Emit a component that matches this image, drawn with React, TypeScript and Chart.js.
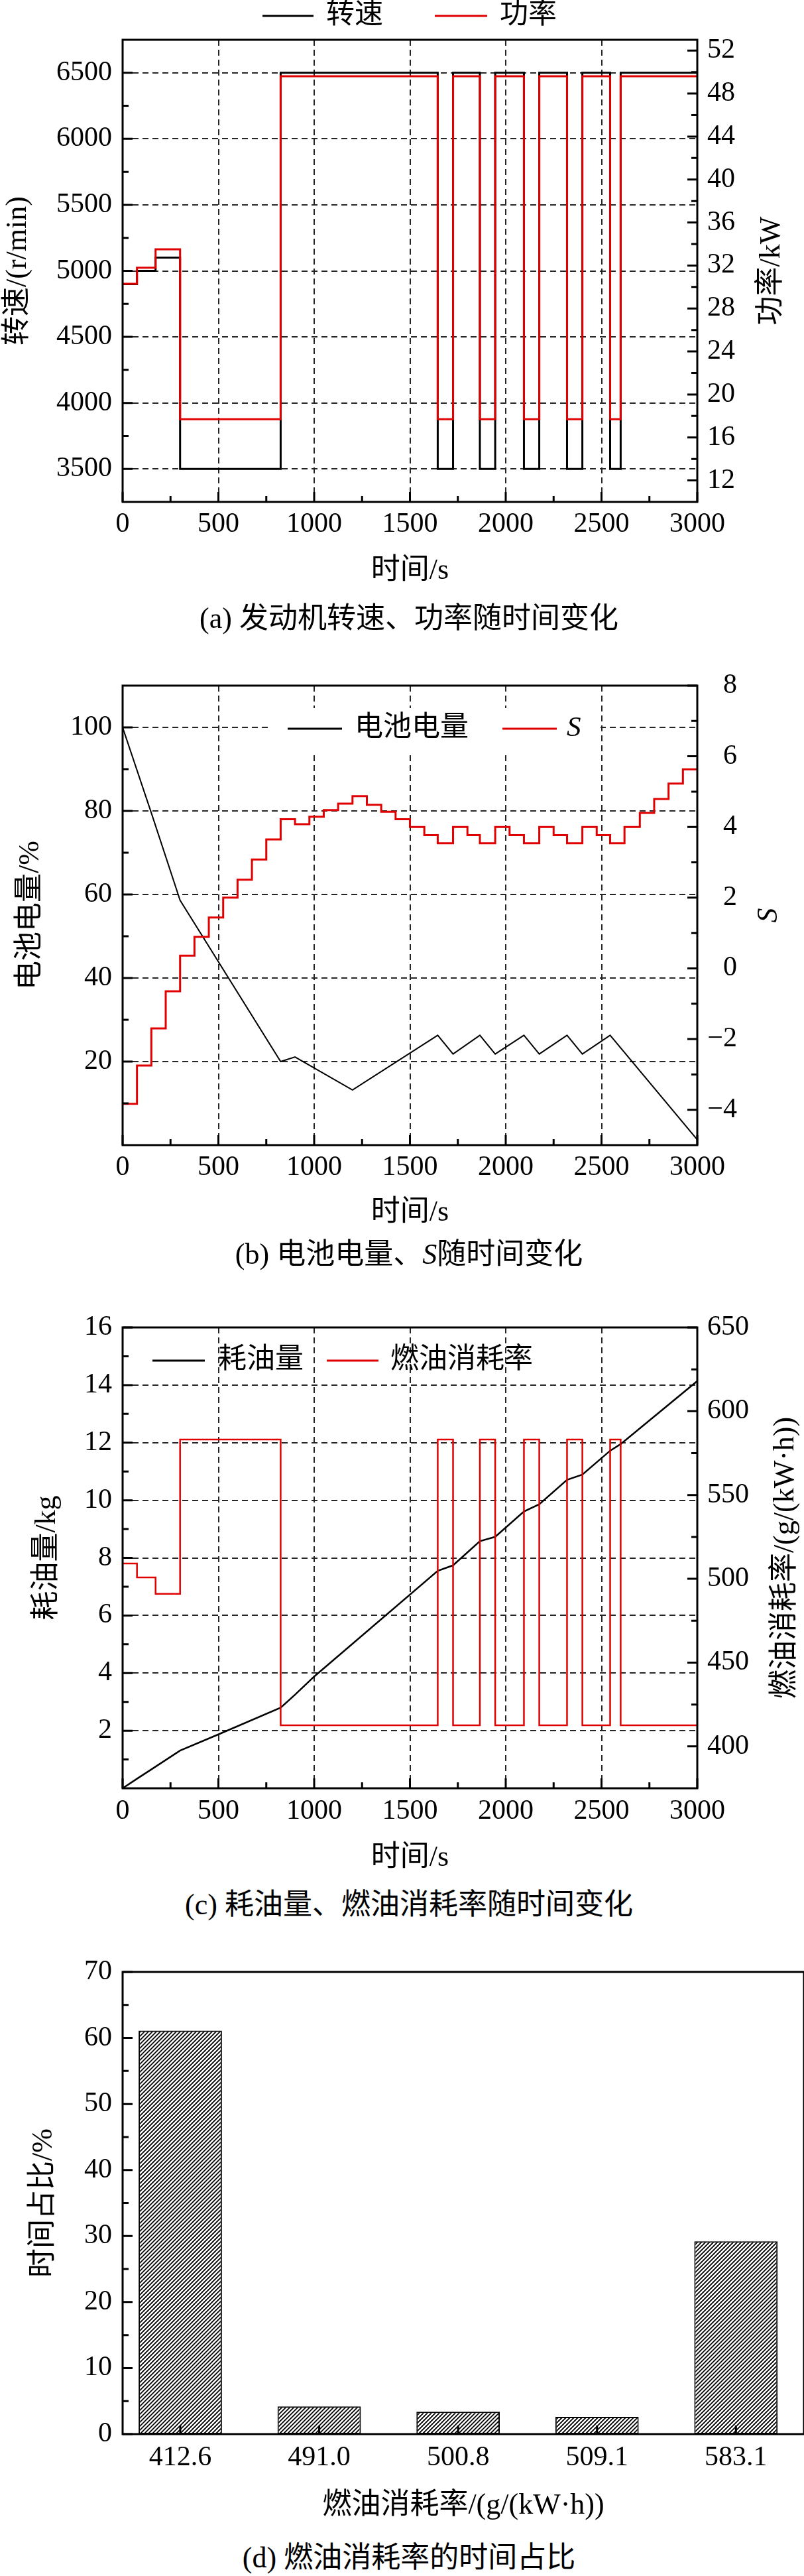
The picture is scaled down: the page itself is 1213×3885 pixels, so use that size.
import { useEffect, useRef } from 'react';
import type { CSSProperties } from 'react';
import { Chart, registerables } from 'chart.js';
import type { Plugin } from 'chart.js';

Chart.register(...registerables);

const SERIF = '"Liberation Serif", "Noto Sans CJK SC", serif';
const RED = '#e00000';
const GRID = '#262626';
const W = 1213;
const LEFT_W = 185;
const RIGHT_W = W - 1052;

// operating phases shared by (a) and (c), seconds
const phaseTimes = [0, 75, 172, 300, 825, 1645, 1725, 1865, 1945, 2095, 2175, 2320, 2400, 2545, 2600, 3000];
const speed = [4900, 5000, 5100, 3500, 6500, 3500, 6500, 3500, 6500, 3500, 6500, 3500, 6500, 3500, 6500, 6500];
const power = [30.3, 31.8, 33.5, 17.7, 49.6, 17.7, 49.6, 17.7, 49.6, 17.7, 49.6, 17.7, 49.6, 17.7, 49.6, 49.6];
const fuelRate = [509.1, 500.8, 491.0, 583.1, 412.6, 583.1, 412.6, 583.1, 412.6, 583.1, 412.6, 583.1, 412.6, 583.1, 412.6, 412.6];

// (b) battery charge and S
const socTimes = [0, 150, 300, 825, 900, 1200, 1645, 1725, 1865, 1945, 2095, 2175, 2320, 2400, 2545, 3000];
const soc = [100, 79.5, 58.6, 20, 21.1, 13.2, 26.3, 21.8, 26.3, 21.8, 26.3, 21.8, 26.3, 21.8, 26.3, 1.3];
const sTimes = [0, 75, 150, 225, 300, 375, 450, 525, 600, 675, 750, 825, 900, 975, 1050, 1125, 1200, 1275, 1350, 1425,
  1500, 1575, 1645, 1725, 1800, 1865, 1945, 2020, 2095, 2175, 2250, 2320, 2400, 2475, 2545, 2620, 2700, 2775, 2850, 2925, 3000];
const sValues = [-3.83, -2.75, -1.7, -0.65, 0.36, 0.89, 1.44, 2.0, 2.51, 3.08, 3.65, 4.22, 4.08, 4.29, 4.48, 4.66, 4.87, 4.63, 4.43, 4.22,
  4.0, 3.77, 3.54, 4.0, 3.77, 3.54, 4.0, 3.77, 3.54, 4.0, 3.77, 3.54, 4.0, 3.77, 3.54, 4.0, 4.4, 4.79, 5.23, 5.63, 5.63];

// (c) cumulative fuel
const fuelTimes = [0, 75, 172, 300, 500, 825, 900, 1000, 1645, 1725, 1865, 1945, 2095, 2175, 2320, 2400, 2545, 2600, 3000];
const fuelUsed = [0, 0.33, 0.75, 1.31, 1.87, 2.8, 3.25, 3.88, 7.55, 7.74, 8.58, 8.73, 9.61, 9.86, 10.71, 10.89, 11.72, 11.95, 14.14];

// (d) time share per fuel rate
const rateLabels = ['412.6', '491.0', '500.8', '509.1', '583.1'];
const timeShare = [61.1, 4.2, 3.4, 2.6, 29.2];

const timeTicks = [0, 500, 1000, 1500, 2000, 2500, 3000];
const speedTicks = [3500, 4000, 4500, 5000, 5500, 6000, 6500];
const powerTicks = [12, 16, 20, 24, 28, 32, 36, 40, 44, 48, 52];
const socTicks = [20, 40, 60, 80, 100];
const sTicks = [-4, -2, 0, 2, 4, 6, 8];
const fuelTicks = [2, 4, 6, 8, 10, 12, 14, 16];
const rateTicks = [400, 450, 500, 550, 600, 650];
const shareTicks = [0, 10, 20, 30, 40, 50, 60, 70];
const barTicks = [1, 2, 3, 4, 5];

const tickFont = { family: SERIF, size: 42, lineHeight: 1 };
const titleFont = { family: SERIF, size: 44, lineHeight: 1 };

const plain = (v: number | string) => String(v);
const minus = (v: number | string) => (Number(v) < 0 ? '\u2212' + Math.abs(Number(v)) : String(v));
const useTicks = (values: number[]) => (scale: any) => {
  scale.ticks = values.map((value) => ({ value }));
};
const widthOf = (w: number) => (scale: any) => {
  scale.width = w;
};
const heightOf = (h: number) => (scale: any) => {
  scale.height = h;
};
const pts = (xs: number[], ys: number[]) => xs.map((x, i) => ({ x, y: ys[i] }));

function bottomAxis(min: number, max: number, ticks: number[], height: number, labelPad: number, title: string, titlePad: number, grid: boolean, callback: (v: any) => string = plain) {
  return {
    type: 'linear',
    position: 'bottom',
    offset: false,
    min,
    max,
    afterBuildTicks: useTicks(ticks),
    afterFit: heightOf(height),
    grid: { display: grid, offset: false, color: GRID, lineWidth: 2, drawTicks: false },
    border: { display: false, dash: [9, 6] },
    ticks: { font: tickFont, color: '#000', padding: labelPad, autoSkip: false, maxRotation: 0, callback },
    title: { display: true, text: title, font: titleFont, color: '#000', padding: { top: 0, bottom: titlePad } },
  };
}

function sideAxis(side: 'left' | 'right', min: number, max: number, ticks: number[], grid: boolean, opts: { title?: string; titlePad?: number; width?: number; pad?: number; far?: boolean; callback?: (v: any) => string } = {}) {
  return {
    type: 'linear',
    position: side,
    min,
    max,
    afterBuildTicks: useTicks(ticks),
    afterFit: widthOf(opts.width ?? (side === 'left' ? LEFT_W : RIGHT_W)),
    grid: { display: grid, color: GRID, lineWidth: 2, drawTicks: false },
    border: { display: false, dash: [9, 6] },
    ticks: {
      font: tickFont,
      color: '#000',
      padding: opts.pad ?? 16,
      autoSkip: false,
      crossAlign: opts.far ? 'far' : 'near',
      callback: opts.callback ?? plain,
    },
    title: { display: !!opts.title, text: opts.title ?? '', font: titleFont, color: '#000', padding: { top: opts.titlePad ?? 0, bottom: 0 } },
  };
}

function base(top: number, right: number, scales: any) {
  return {
    responsive: false,
    animation: false,
    events: [],
    layout: { padding: { top, right, left: 0, bottom: 0 } },
    plugins: { legend: { display: false }, tooltip: { enabled: false } },
    scales,
  };
}

interface LegendItem { from: number; to: number; textX: number; label: string; color: string; width: number; italic?: boolean }
interface DecorCfg {
  axes: { id: string; side: 'left' | 'right' | 'bottom'; major: number; minor: number }[];
  rightTitle?: { text: string; x: number; italic?: boolean };
  legend?: { y: number; items: LegendItem[]; box?: [number, number, number, number] };
}

// frame, inward ticks, rotated right title and legend drawn on top of the chart
function decor(cfg: DecorCfg): Plugin {
  return {
    id: 'decor',
    afterDraw(chart) {
      const { ctx, chartArea: a } = chart;
      ctx.save();
      ctx.strokeStyle = '#000';
      ctx.lineWidth = 3;
      for (const ax of cfg.axes) {
        const scale: any = chart.scales[ax.id];
        const values: number[] = scale.ticks.map((t: any) => t.value);
        const marks: [number, number][] = values.map((v) => [v, ax.major]);
        if (ax.minor > 0 && values.length > 1) {
          const step = values[1] - values[0];
          for (let v = values[0] - step / 2; v < scale.max; v += step) {
            if (v > scale.min) marks.push([v, ax.minor]);
          }
        }
        ctx.beginPath();
        for (const [v, len] of marks) {
          const p = scale.getPixelForValue(v);
          if (ax.side === 'left') {
            ctx.moveTo(a.left, p);
            ctx.lineTo(a.left + len, p);
          } else if (ax.side === 'right') {
            ctx.moveTo(a.right, p);
            ctx.lineTo(a.right - len, p);
          } else {
            ctx.moveTo(p, a.bottom);
            ctx.lineTo(p, a.bottom - len);
          }
        }
        ctx.stroke();
      }
      ctx.strokeRect(a.left, a.top, a.right - a.left, a.bottom - a.top);

      if (cfg.rightTitle) {
        const t = cfg.rightTitle;
        ctx.save();
        ctx.translate(t.x, (a.top + a.bottom) / 2);
        ctx.rotate(-Math.PI / 2);
        ctx.font = `${t.italic ? 'italic ' : ''}44px ${SERIF}`;
        ctx.fillStyle = '#000';
        ctx.textAlign = 'center';
        ctx.textBaseline = 'middle';
        ctx.fillText(t.text, 0, 0);
        ctx.restore();
      }

      if (cfg.legend) {
        const lg = cfg.legend;
        if (lg.box) {
          ctx.fillStyle = '#fff';
          ctx.fillRect(lg.box[0], lg.box[1], lg.box[2], lg.box[3]);
        }
        for (const it of lg.items) {
          ctx.strokeStyle = it.color;
          ctx.lineWidth = it.width;
          ctx.beginPath();
          ctx.moveTo(it.from, lg.y);
          ctx.lineTo(it.to, lg.y);
          ctx.stroke();
          ctx.font = `${it.italic ? 'italic ' : ''}43px ${SERIF}`;
          ctx.fillStyle = '#000';
          ctx.textAlign = 'left';
          ctx.textBaseline = 'middle';
          ctx.fillText(it.label, it.textX, lg.y);
        }
      }
      ctx.restore();
    },
  };
}

const stepLine = { pointRadius: 0, stepped: true, fill: false, borderJoinStyle: 'miter' };
const plainLine = { pointRadius: 0, tension: 0, fill: false };

function buildA(): any {
  return {
    type: 'line',
    data: {
      datasets: [
        { ...stepLine, label: '转速', data: pts(phaseTimes, speed), yAxisID: 'y', borderColor: '#000', borderWidth: 3, order: 2 },
        { ...stepLine, label: '功率', data: pts(phaseTimes, power), yAxisID: 'y1', borderColor: RED, borderWidth: 3, order: 1 },
      ],
    },
    options: base(60, 0, {
      x: bottomAxis(0, 3000, timeTicks, 143, 13, '时间/s', 17, true),
      y: sideAxis('left', 3250, 6750, speedTicks, true, { title: '转速/(r/min)', titlePad: 5 }),
      y1: sideAxis('right', 10, 53, powerTicks, false, { pad: 15 }),
    }),
    plugins: [
      decor({
        axes: [
          { id: 'x', side: 'bottom', major: 15, minor: 9 },
          { id: 'y', side: 'left', major: 15, minor: 9 },
          { id: 'y1', side: 'right', major: 15, minor: 9 },
        ],
        rightTitle: { text: '功率/kW', x: 1164 },
        legend: {
          y: 24,
          items: [
            { from: 396, to: 473, textX: 492, label: '转速', color: '#000', width: 3 },
            { from: 656, to: 735, textX: 754, label: '功率', color: RED, width: 3 },
          ],
        },
      }),
    ],
  };
}

function buildB(): any {
  return {
    type: 'line',
    data: {
      datasets: [
        { ...plainLine, label: '电池电量', data: pts(socTimes, soc), yAxisID: 'y', borderColor: '#000', borderWidth: 2, order: 2 },
        { ...stepLine, label: 'S', data: pts(sTimes, sValues), yAxisID: 'y1', borderColor: RED, borderWidth: 3, order: 1 },
      ],
    },
    options: base(84, 101, {
      x: bottomAxis(0, 3000, timeTicks, 143, 13, '时间/s', 19, true),
      y: sideAxis('left', 0, 110, socTicks, true, { title: '电池电量/%', titlePad: 24 }),
      y1: sideAxis('right', -5, 8, sTicks, false, { width: 60, pad: 15, far: true, callback: minus }),
    }),
    plugins: [
      decor({
        axes: [
          { id: 'x', side: 'bottom', major: 15, minor: 9 },
          { id: 'y', side: 'left', major: 15, minor: 9 },
          { id: 'y1', side: 'right', major: 15, minor: 9 },
        ],
        rightTitle: { text: 'S', x: 1160, italic: true },
        legend: {
          y: 149,
          box: [409, 118, 497, 67],
          items: [
            { from: 434, to: 516, textX: 535, label: '电池电量', color: '#000', width: 3 },
            { from: 758, to: 840, textX: 855, label: 'S', color: RED, width: 3, italic: true },
          ],
        },
      }),
    ],
  };
}

function buildC(): any {
  return {
    type: 'line',
    data: {
      datasets: [
        { ...plainLine, label: '耗油量', data: pts(fuelTimes, fuelUsed), yAxisID: 'y', borderColor: '#000', borderWidth: 2.5, order: 2 },
        { ...stepLine, label: '燃油消耗率', data: pts(phaseTimes, fuelRate), yAxisID: 'y1', borderColor: RED, borderWidth: 2.5, order: 1 },
      ],
    },
    options: base(102, 0, {
      x: bottomAxis(0, 3000, timeTicks, 143, 14, '时间/s', 16, true),
      y: sideAxis('left', 0, 16, fuelTicks, true, { title: '耗油量/kg', titlePad: 49 }),
      y1: sideAxis('right', 375, 650, rateTicks, false, { pad: 15 }),
    }),
    plugins: [
      decor({
        axes: [
          { id: 'x', side: 'bottom', major: 15, minor: 9 },
          { id: 'y', side: 'left', major: 15, minor: 9 },
          { id: 'y1', side: 'right', major: 15, minor: 9 },
        ],
        rightTitle: { text: '燃油消耗率/(g/(kW·h))', x: 1185 },
        legend: {
          y: 152,
          items: [
            { from: 230, to: 309, textX: 329, label: '耗油量', color: '#000', width: 3 },
            { from: 493, to: 571, textX: 589, label: '燃油消耗率', color: RED, width: 3 },
          ],
        },
      }),
    ],
  };
}

function hatch(): CanvasPattern | string {
  const tile = document.createElement('canvas');
  tile.width = 6;
  tile.height = 6;
  const c = tile.getContext('2d');
  if (!c) return '#fff';
  c.fillStyle = '#fff';
  c.fillRect(0, 0, 6, 6);
  c.strokeStyle = '#000';
  c.lineWidth = 1.8;
  c.beginPath();
  c.moveTo(0, 6);
  c.lineTo(6, 0);
  c.moveTo(-1, 1);
  c.lineTo(1, -1);
  c.moveTo(5, 7);
  c.lineTo(7, 5);
  c.stroke();
  return c.createPattern(tile, 'repeat') ?? '#fff';
}

function buildD(): any {
  return {
    type: 'bar',
    data: {
      datasets: [
        {
          label: '时间占比',
          data: rateLabels.map((_, i) => ({ x: barTicks[i], y: timeShare[i] })),
          backgroundColor: hatch(),
          borderColor: '#000',
          borderWidth: 2,
          borderSkipped: false,
          barPercentage: 0.6,
          categoryPercentage: 1,
        },
      ],
    },
    options: base(64, 0, {
      x: bottomAxis(0.585, 5.49, barTicks, 139, 15, '燃油消耗率/(g/(kW·h))', 9, false, (v: any) => rateLabels[Number(v) - 1] ?? ''),
      y: sideAxis('left', 0, 70, shareTicks, false, { title: '时间占比/%', titlePad: 44 }),
    }),
    plugins: [
      decor({
        axes: [
          { id: 'x', side: 'bottom', major: 13, minor: 0 },
          { id: 'y', side: 'left', major: 15, minor: 9 },
        ],
      }),
    ],
  };
}

function ChartCanvas({ top, height, build }: { top: number; height: number; build: () => any }) {
  const canvasRef = useRef<HTMLCanvasElement>(null);

  useEffect(() => {
    if (!canvasRef.current) return;
    const chart = new Chart(canvasRef.current, build());
    return () => {
      chart.destroy();
    };
  }, [build]);

  return (
    <canvas
      ref={canvasRef}
      width={W}
      height={height}
      style={{ position: 'absolute', left: 0, top, width: W, height }}
    />
  );
}

const caption = (center: number): CSSProperties => ({
  position: 'absolute',
  top: center - 22,
  left: 617,
  transform: 'translateX(-50%)',
  whiteSpace: 'nowrap',
  font: `44px/1 ${SERIF}`,
  color: '#000',
});

export default function App() {
  return (
    <div style={{ position: 'absolute', left: 0, top: 0, width: W, height: 3885, background: '#fff', overflow: 'hidden' }}>
      <ChartCanvas top={0} height={900} build={buildA} />
      <ChartCanvas top={950} height={920} build={buildB} />
      <ChartCanvas top={1900} height={940} build={buildC} />
      <ChartCanvas top={2910} height={900} build={buildD} />
      <div style={caption(933)}>(a) 发动机转速、功率随时间变化</div>
      <div style={caption(1892)}>
        (b) 电池电量、<span style={{ fontStyle: 'italic' }}>S</span>随时间变化
      </div>
      <div style={caption(2873)}>(c) 耗油量、燃油消耗率随时间变化</div>
      <div style={caption(3858)}>(d) 燃油消耗率的时间占比</div>
    </div>
  );
}
